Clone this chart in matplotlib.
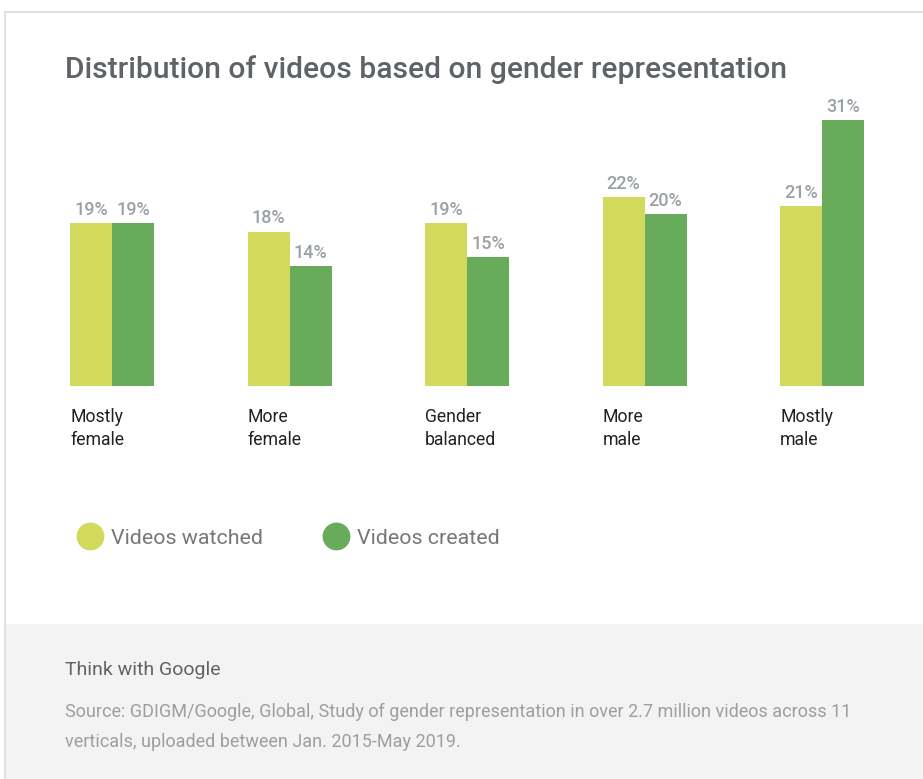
import matplotlib.pyplot as plt
import numpy as np
from matplotlib.lines import Line2D
from matplotlib.patches import Rectangle

plt.rcParams['font.family'] = ['Roboto', 'DejaVu Sans']

categories = ['Mostly\nfemale', 'More\nfemale', 'Gender\nbalanced', 'More\nmale', 'Mostly\nmale']
watched = [19, 18, 19, 22, 21]
created = [19, 14, 15, 20, 31]
series_names = ['Videos watched', 'Videos created']

c_watched = '#d1da5c'
c_created = '#67ab5b'

W, H = 923, 779
fig = plt.figure(figsize=(W / 100, H / 100), dpi=100)
fig.patch.set_facecolor('white')


def fx(x):
    return x / W


def fy(y):
    return 1 - y / H


# card border and footer
fig.add_artist(Line2D([fx(5), 1], [fy(12), fy(12)], color='#dadce0', lw=1.2))
fig.add_artist(Line2D([fx(5), fx(5)], [fy(12), 0], color='#dadce0', lw=1.2))
fig.add_artist(Rectangle((fx(6), 0), 1, fy(624), color='#f3f3f3', lw=0))

fig.text(fx(65), fy(70), 'Distribution of videos based on gender representation',
         fontsize=21.6, fontweight='medium', color='#5f6368', va='center', ha='left')

# bars: group spacing 177.5px, first group centre at x=112px, baseline y=386px
unit = 177.5
px_per_pct = 8.58
x0 = 112 - 0.5 * unit
x1 = 112 + 4.5 * unit
y_top = 386 - 36 * px_per_pct
ax = fig.add_axes([fx(x0), fy(386), (x1 - x0) / W, (386 - y_top) / H])
ax.set_xlim(-0.5, 4.5)
ax.set_ylim(0, 36)
ax.axis('off')

x = np.arange(len(categories))
bw = 42 / unit
b1 = ax.bar(x - bw / 2, watched, bw, color=c_watched, label=series_names[0])
b2 = ax.bar(x + bw / 2, created, bw, color=c_created, label=series_names[1])
for bars in (b1, b2):
    for b in bars:
        ax.annotate('%d%%' % b.get_height(), (b.get_x() + b.get_width() / 2, b.get_height()),
                    xytext=(0, 3), textcoords='offset points', ha='center', va='bottom',
                    fontsize=13, fontweight='medium', color='#9aa0a6')

for i, cat in enumerate(categories):
    ax.annotate(cat, (i - bw, 0), xytext=(0, -16), textcoords='offset points',
                ha='left', va='top', fontsize=12.7, color='#202124', linespacing=1.35)

handles = [Line2D([], [], marker='o', ls='none', markersize=19, color=c_watched),
           Line2D([], [], marker='o', ls='none', markersize=19, color=c_created)]
fig.legend(handles, series_names, loc='center left', bbox_to_anchor=(fx(77), fy(538)),
           ncol=2, frameon=False, fontsize=15.4, labelcolor='#777777',
           handlelength=1.2, handletextpad=0.4, columnspacing=2.78,
           borderpad=0, borderaxespad=0)

fig.text(fx(65), fy(670), 'Think with Google', fontsize=14, color='#5f6368',
         va='center', ha='left')
fig.text(fx(65), fy(712), 'Source: GDIGM/Google, Global, Study of gender representation in over 2.7 million videos across 11',
         fontsize=13, color='#9e9e9e', va='center', ha='left')
fig.text(fx(65), fy(742), 'verticals, uploaded between Jan. 2015-May 2019.',
         fontsize=13, color='#9e9e9e', va='center', ha='left')

plt.savefig('out.png', dpi=100)
